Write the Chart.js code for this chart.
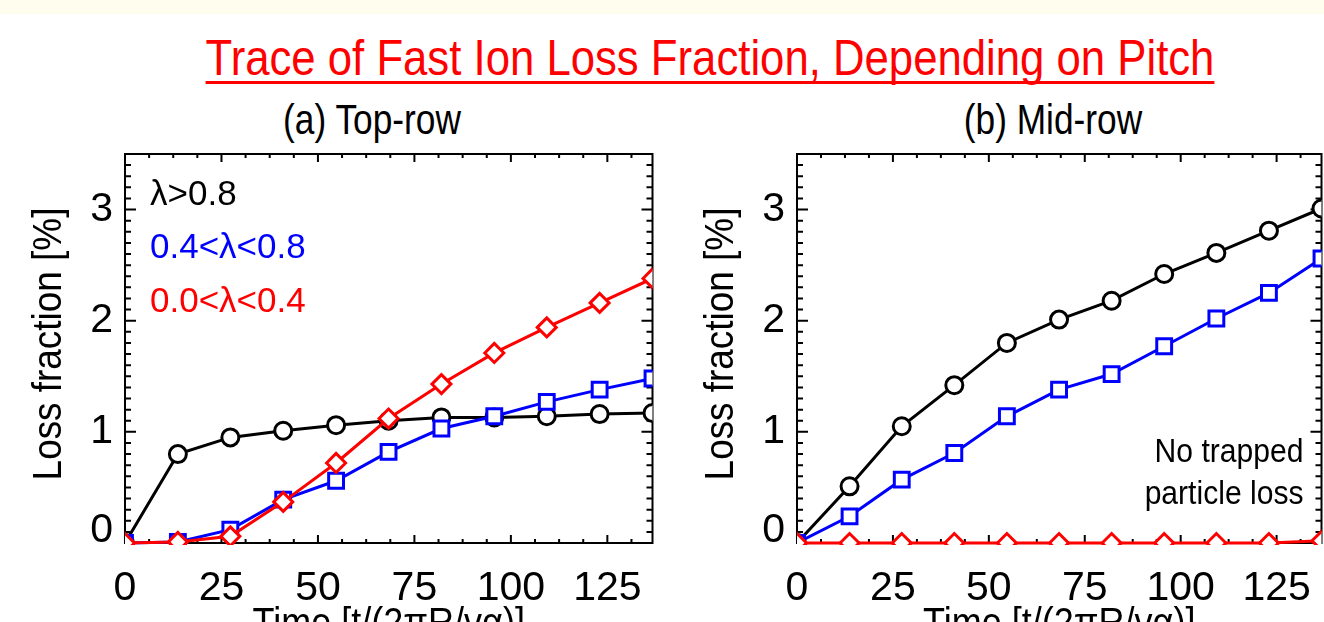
<!DOCTYPE html>
<html>
<head>
<meta charset="utf-8">
<script src="https://cdn.jsdelivr.net/npm/chart.js@4.4.0/dist/chart.umd.min.js"></script>
<style>
  html, body { margin: 0; padding: 0; width: 1324px; height: 622px; overflow: hidden; background: #fff; }
  .band { position: absolute; left: 0; top: 0; width: 1324px; height: 14px; background: #fffdee; }
  .main-title {
    position: absolute; left: 0; top: 33px; width: 1420px; text-align: center;
    font-family: "Liberation Sans", Arial, sans-serif;
    font-size: 50px; line-height: 50px; color: #ff0000;
    transform: scaleX(0.874); transform-origin: 710px 0;
  }
  .main-title span {
    text-decoration: underline; text-decoration-thickness: 3px;
    text-underline-offset: 6px; text-decoration-skip-ink: none;
  }
  .panel-title {
    position: absolute; top: 99px; width: 400px; text-align: center;
    font-family: "Liberation Sans", Arial, sans-serif;
    font-size: 42px; line-height: 42px; color: #000;
    transform: scaleX(0.84);
  }
  canvas { position: absolute; left: 0; top: 0; }
</style>
</head>
<body>
<div class="band"></div>
<div class="main-title"><span>Trace of Fast Ion Loss Fraction, Depending on Pitch</span></div>
<div class="panel-title" style="left: 172px;">(a) Top-row</div>
<div class="panel-title" style="left: 853px;">(b) Mid-row</div>
<canvas id="chart-top" width="1324" height="660"></canvas>
<canvas id="chart-mid" width="1340" height="660"></canvas>

<script>
// Data
const timeSteps = [0, 13.7, 27.3, 41.0, 54.7, 68.3, 82.0, 95.7, 109.3, 123.0, 136.7];
const pitchLabels = ["λ>0.8", "0.4<λ<0.8", "0.0<λ<0.4"];

const topHigh = [0, 0.80, 0.95, 1.01, 1.06, 1.10, 1.13, 1.13, 1.14, 1.16, 1.17];
const topMid = [0, 0.01, 0.12, 0.39, 0.56, 0.82, 1.03, 1.14, 1.27, 1.38, 1.48];
const topLow = [0, 0.01, 0.06, 0.37, 0.72, 1.12, 1.43, 1.71, 1.94, 2.16, 2.38];

const midHigh = [0, 0.51, 1.05, 1.42, 1.80, 2.01, 2.18, 2.42, 2.61, 2.81, 3.01];
const midMid = [0, 0.24, 0.57, 0.81, 1.14, 1.38, 1.52, 1.77, 2.02, 2.25, 2.56];
const midLow = [0, 0, 0, 0, 0, 0, 0, 0, 0, 0, 0.02];

const xTicks = [0, 25, 50, 75, 100, 125];
const yTicks = [0, 1, 2, 3];
const noteLines = ["No trapped", "particle loss"];
// End Data

const REGULAR = "'Liberation Sans', Arial, sans-serif";

const toPoints = (values) => timeSteps.map((t, i) => ({ x: t, y: values[i] }));

// text squeezed horizontally (narrow Helvetica look)
const drawSqueezed = (ctx, text, x, y, squeeze, rotation, align) => {
  ctx.save();
  ctx.translate(x, y);
  ctx.rotate(rotation);
  ctx.scale(squeeze, 1);
  ctx.textAlign = align;
  ctx.fillText(text, 0, 0);
  ctx.restore();
};

// Frame with inward ticks on all four sides + y labels + axis titles
const frameTicks = {
  id: "frameTicks",
  beforeDatasetsDraw(chart) {
    const { ctx, chartArea: a, scales } = chart;
    const sx = scales.x;
    const sy = scales.y;
    ctx.save();
    ctx.strokeStyle = "#000";
    ctx.lineWidth = 2;
    ctx.beginPath();
    for (let i = 0; i * 6.25 <= sx.max + 1e-6; i++) {
      const px = sx.getPixelForValue(i * 6.25);
      const len = i % 4 === 0 ? 8 : 4;
      ctx.moveTo(px, a.bottom);
      ctx.lineTo(px, a.bottom - len);
      ctx.moveTo(px, a.top);
      ctx.lineTo(px, a.top + len);
    }
    for (let i = 0; i * 0.1 <= sy.max + 1e-6; i++) {
      const py = sy.getPixelForValue(i * 0.1);
      const len = i % 10 === 0 ? 11 : 6;
      ctx.moveTo(a.left, py);
      ctx.lineTo(a.left + len, py);
      ctx.moveTo(a.right, py);
      ctx.lineTo(a.right - len, py);
    }
    ctx.stroke();
    ctx.strokeRect(a.left, a.top, a.right - a.left, a.bottom - a.top);

    ctx.fillStyle = "#000";
    ctx.textBaseline = "middle";
    // y labels, the lowest one kept inside the box like the original
    ctx.font = "41px " + REGULAR;
    ctx.textAlign = "right";
    sy.ticks.forEach((t) => {
      const py = Math.min(sy.getPixelForValue(t.value), a.bottom - 12);
      ctx.fillText(String(t.value), a.left - 12, py);
    });
    // axis titles
    ctx.font = "41px " + REGULAR;
    drawSqueezed(ctx, sy.options.title.text, a.left - 75, 344, 0.9, -Math.PI / 2, "center");
    ctx.font = "40px " + REGULAR;
    drawSqueezed(ctx, sx.options.title.text, (a.left + a.right) / 2, 625, 0.9, 0, "center");
    ctx.restore();
  },
};

// Legend text and notes inside the plot area
const insideText = {
  id: "insideText",
  afterDatasetsDraw(chart, args, opts) {
    const { ctx, chartArea: a } = chart;
    ctx.save();
    ctx.textBaseline = "middle";
    if (opts.legend) {
      ctx.font = "35px " + REGULAR;
      ctx.textAlign = "left";
      chart.data.datasets.forEach((ds, i) => {
        ctx.fillStyle = ds.borderColor;
        ctx.fillText(ds.label, a.left + 25, a.top + 41 + i * 53.5);
      });
    }
    if (opts.note) {
      ctx.font = "34px " + REGULAR;
      ctx.fillStyle = "#000";
      opts.note.forEach((line, i) => {
        drawSqueezed(ctx, line, a.right - 18, a.top + 299 + i * 42, 0.885, 0, "right");
      });
    }
    ctx.restore();
  },
};

const makeDataset = (label, values, color, style, radius, order) => ({
  label: label,
  data: toPoints(values),
  borderColor: color,
  borderWidth: 3,
  pointStyle: style,
  pointRadius: radius,
  pointBorderWidth: 3,
  pointBorderColor: color,
  pointBackgroundColor: "#fff",
  tension: 0,
  clip: { left: 0, top: 0, right: 0, bottom: 2 },
  order: order,
});

const makeChart = (canvasId, series, padLeft, padRight, plugins) => {
  new Chart(document.getElementById(canvasId), {
    type: "line",
    data: {
      datasets: [
        makeDataset(pitchLabels[0], series[0], "#000000", "circle", 8.5, 2),
        makeDataset(pitchLabels[1], series[1], "#0000ff", "rect", 10.5, 1),
        makeDataset(pitchLabels[2], series[2], "#ff0000", "rectRot", 9.5, 0),
      ],
    },
    options: {
      responsive: false,
      animation: false,
      layout: { padding: { left: padLeft, right: padRight, top: 154, bottom: 0 } },
      scales: {
        x: {
          type: "linear",
          min: 0,
          max: 136.7,
          afterFit: (scale) => {
            scale.height = 117;
            scale.paddingLeft = 0;
            scale.paddingRight = 0;
          },
          afterBuildTicks: (scale) => { scale.ticks = xTicks.map((v) => ({ value: v })); },
          grid: { display: false },
          border: { display: false },
          ticks: {
            color: "#000",
            padding: 17,
            maxRotation: 0,
            autoSkip: false,
            font: { family: REGULAR, size: 41, lineHeight: 1 },
          },
          title: { display: false, text: "Time [t/(2πR/vα)]" },
        },
        y: {
          min: 0,
          max: 3.5,
          afterFit: (scale) => { scale.width = 125; },
          afterBuildTicks: (scale) => { scale.ticks = yTicks.map((v) => ({ value: v })); },
          grid: { display: false },
          border: { display: false },
          ticks: { display: false },
          title: { display: false, text: "Loss fraction [%]" },
        },
      },
      plugins: {
        legend: { display: false },
        tooltip: { enabled: false },
        insideText: plugins,
      },
    },
    plugins: [frameTicks, insideText],
  });
};

makeChart("chart-top", [topHigh, topMid, topLow], 0, 671.5, { legend: true });
// wider canvas, the part past the window edge is cut off
makeChart("chart-mid", [midHigh, midMid, midLow], 672, 18.5, { legend: false, note: noteLines });
</script>
</body>
</html>
